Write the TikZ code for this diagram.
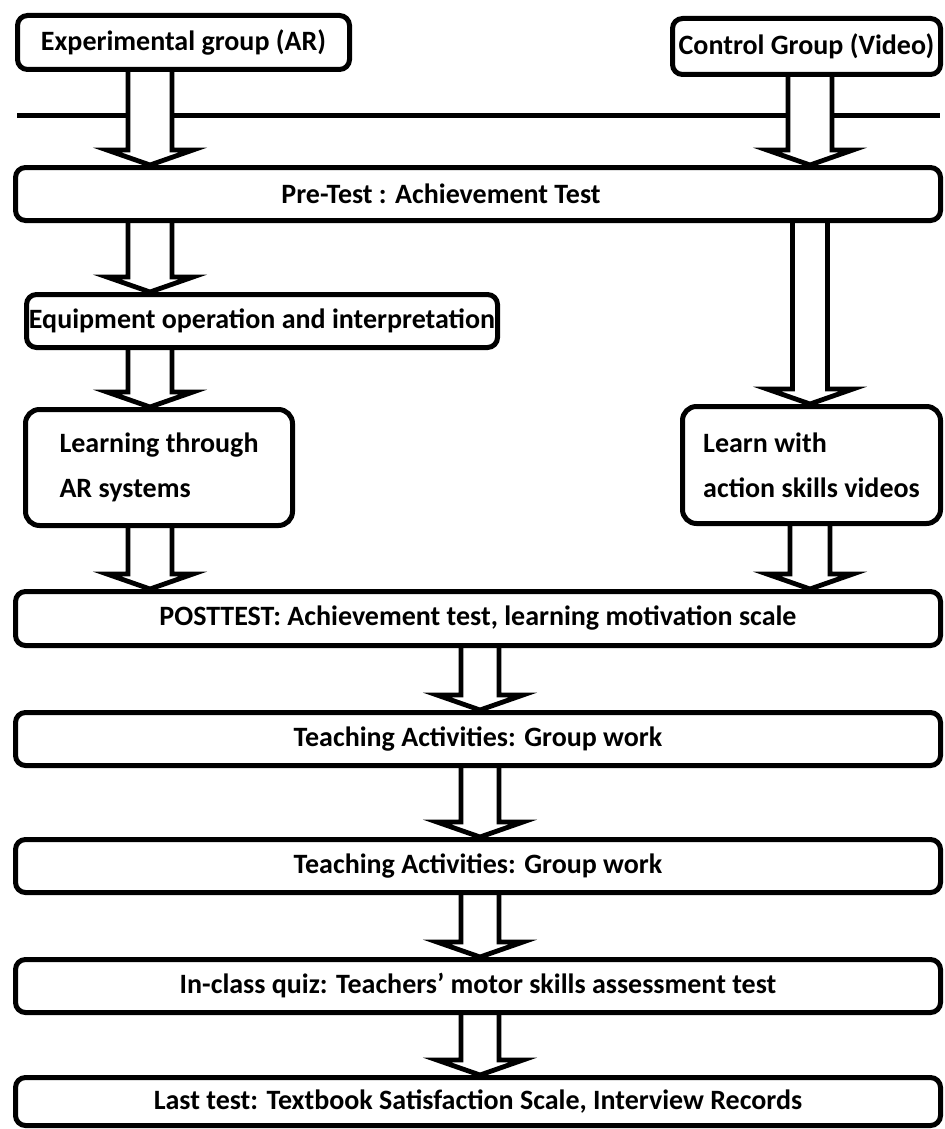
\documentclass[tikz,border=0pt]{standalone}
\usepackage{fontspec}
\setmainfont{Carlito}
\usetikzlibrary{positioning,calc,backgrounds}

\tikzset{
  box/.style={draw,line width=2.5pt,rounded corners=5pt,fill=white,inner sep=0pt,align=left},
  widebox/.style={box,minimum width=462.5pt,minimum height=26.5pt},
  blockarrow/.style={draw,fill=white,line width=2.4pt,
    to path={let \p1=(\tikztostart), \p2=(\tikztotarget) in
      (\x1-#1,\y1) -- (\x1-#1,\y2+7.5pt) -- (\x1-21.5pt,\y2+7.5pt) -- (\x1,\y2)
      -- (\x1+21.5pt,\y2+7.5pt) -- (\x1+#1,\y2+7.5pt) -- (\x1+#1,\y1)}},
  blockarrow/.default=11pt
}

\begin{document}
\begin{tikzpicture}[x=0.5pt,y=-0.5pt,font=\fontsize{14}{22.5}\selectfont\bfseries]
  \useasboundingbox (0,0) rectangle (945,1129);

  % the two groups
  \node[box,minimum width=166pt,minimum height=27pt] (exp) at (183.5,42.5) {Experimental group (AR)};
  \node[box,minimum width=134pt,minimum height=28pt] (ctrl) at (806.5,46.5) {Control Group (Video)};

  \node[widebox] (pre) at (478,194) {};
  \node (pretxt) at (441,194) {Pre-Test : Achievement Test};

  % the two branches
  \node[box,minimum width=235.5pt,minimum height=26.5pt] (equip) at (262,321) {Equipment operation and interpretation};
  \node[box,rounded corners=7pt,minimum width=133.5pt,minimum height=58pt] (lar) at (159,467.5) {Learning through\\AR systems};
  \node[box,rounded corners=7pt,minimum width=129pt,minimum height=58.5pt] (lvid) at (811.5,465) {Learn with\\action skills videos};

  % common steps
  \node[widebox,minimum height=27pt] (post) at (478,618.5) {POSTTEST: Achievement test, learning motivation scale};
  \node[widebox] (teachA) at (478,739) {Teaching Activities: Group work};
  \node[widebox] (teachB) at (478,866) {Teaching Activities: Group work};
  \node[widebox] (quiz) at (478,986) {In-class quiz: Teachers' motor skills assessment test};
  \node[widebox,minimum height=24pt] (last) at (478,1101.5) {Last test: Textbook Satisfaction Scale, Interview Records};

  \coordinate (colL) at (150,0);
  \coordinate (colR) at (810,0);
  \coordinate (colM) at (480,0);
  \coordinate (lineL) at (17,116);
  \coordinate (lineR) at (940,116);

  \begin{scope}[on background layer]
    \draw[line width=2.5pt] (lineL) -- (lineR);
    \draw[blockarrow] (exp.south -| colL) to (pre.north -| colL);
    \draw[blockarrow] (ctrl.south -| colR) to (pre.north -| colR);
    \draw[blockarrow] (pre.south -| colL) to (equip.north -| colL);
    \draw[blockarrow] (equip.south -| colL) to (lar.north -| colL);
    \draw[blockarrow] (lar.south -| colL) to (post.north -| colL);
    \draw[blockarrow=8.75pt] (pre.south -| colR) to (lvid.north -| colR);
    \draw[blockarrow=10pt] (lvid.south -| colR) to (post.north -| colR);
    \draw[blockarrow=9.5pt] (post.south -| colM) to (teachA.north -| colM);
    \draw[blockarrow=9.5pt] (teachA.south -| colM) to (teachB.north -| colM);
    \draw[blockarrow=9.5pt] (teachB.south -| colM) to (quiz.north -| colM);
    \draw[blockarrow=9.5pt] (quiz.south -| colM) to (last.north -| colM);
  \end{scope}
\end{tikzpicture}
\end{document}
